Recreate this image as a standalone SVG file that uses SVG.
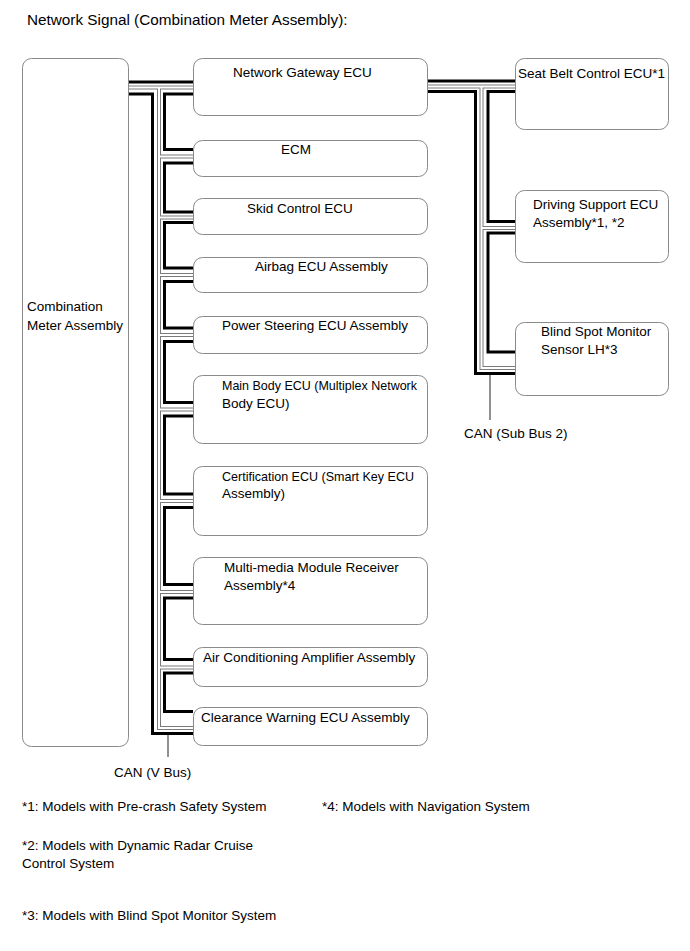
<svg xmlns="http://www.w3.org/2000/svg" width="690" height="951" viewBox="0 0 690 951">
<style>
text{font-family:"Liberation Sans",Arial,sans-serif;font-size:13.5px;fill:#000}
.title{font-size:15.3px}
.box{fill:none;stroke:#8a8a8a;stroke-width:1}
.blk{fill:none;stroke:#000;stroke-width:3;stroke-linejoin:miter}
.hol-o{fill:none;stroke:#7a7a7a;stroke-width:4}
.hol-i{fill:none;stroke:#fff;stroke-width:2}
.ptr{fill:none;stroke:#222;stroke-width:1}
</style>
<defs>
<path id="hollowPath" d="M129,87.5 H193 M159,87.5 V728 H193 M159,156.5 H193 M159,217.5 H193 M159,275 H193 M159,335 H193 M159,409.5 H193 M159,501 H193 M159,592 H193 M159,667.5 H193 M427,86.5 H515 M481.5,86.5 V368 H515 M481.5,228 H515"/>
</defs>
<rect width="690" height="951" fill="#fff"/>
<text class="title" x="27" y="25">Network Signal (Combination Meter Assembly):</text>
<g id="connectors">
<path class="blk" d="M129,82 H193 M129,94 H152.5 V733.5 H193 M427,81 H515 M427,91.5 H475.5 V373.5 H515"/>
<path class="blk" d="M193,94 H164.5 V149.5 H193 M193,163 H164.5 V212 H193 M193,222.5 H164.5 V268 H193 M193,281.5 H164.5 V328 H193 M193,341.5 H164.5 V402.5 H193 M193,416 H164.5 V494 H193 M193,507.5 H164.5 V584.5 H193 M193,598 H164.5 V659.5 H193 M193,673 H164.5 V711.5 H193"/>
<path class="blk" d="M515,91.5 H488 V221.5 H515 M515,233 H488 V352 H515"/>
<use href="#hollowPath" class="hol-o"/>
<use href="#hollowPath" class="hol-i"/>
<path class="ptr" d="M168,735 V757 M490,375 V420"/>
</g>
<g id="combination-meter"><rect class="box" x="22.5" y="58.5" width="106" height="688" rx="9"/><text x="27" y="311">Combination</text><text x="27" y="330">Meter Assembly</text></g>
<g id="gateway"><rect class="box" x="193.5" y="58.5" width="234" height="57" rx="9"/><text x="233" y="77">Network Gateway ECU</text></g>
<g id="ecm"><rect class="box" x="193.5" y="140.5" width="234" height="36" rx="9"/><text x="281" y="154">ECM</text></g>
<g id="skid"><rect class="box" x="193.5" y="198.5" width="234" height="36" rx="9"/><text x="247" y="213">Skid Control ECU</text></g>
<g id="airbag"><rect class="box" x="193.5" y="257.5" width="234" height="35" rx="9"/><text x="255" y="271">Airbag ECU Assembly</text></g>
<g id="power-steering"><rect class="box" x="193.5" y="316.5" width="234" height="37" rx="9"/><text x="222" y="330">Power Steering ECU Assembly</text></g>
<g id="main-body"><rect class="box" x="193.5" y="375.5" width="234" height="68" rx="9"/><text x="222" y="390" textLength="195" lengthAdjust="spacingAndGlyphs">Main Body ECU (Multiplex Network</text><text x="222" y="408">Body ECU)</text></g>
<g id="certification"><rect class="box" x="193.5" y="466.5" width="234" height="69" rx="9"/><text x="222" y="481" textLength="192" lengthAdjust="spacingAndGlyphs">Certification ECU (Smart Key ECU</text><text x="222" y="498">Assembly)</text></g>
<g id="multimedia"><rect class="box" x="193.5" y="557.5" width="234" height="67" rx="9"/><text x="224" y="572">Multi-media Module Receiver</text><text x="224" y="590">Assembly*4</text></g>
<g id="air-conditioning"><rect class="box" x="193.5" y="647.5" width="234" height="39" rx="9"/><text x="203" y="662">Air Conditioning Amplifier Assembly</text></g>
<g id="clearance-warning"><rect class="box" x="193.5" y="707.5" width="234" height="38" rx="9"/><text x="201" y="722">Clearance Warning ECU Assembly</text></g>
<g id="seat-belt"><rect class="box" x="515.5" y="58.5" width="153" height="71" rx="9"/><text x="518" y="78">Seat Belt Control ECU*1</text></g>
<g id="driving-support"><rect class="box" x="515.5" y="190.5" width="153" height="72" rx="9"/><text x="533" y="209">Driving Support ECU</text><text x="533" y="227">Assembly*1, *2</text></g>
<g id="blind-spot"><rect class="box" x="515.5" y="322.5" width="153" height="73" rx="9"/><text x="541" y="336">Blind Spot Monitor</text><text x="541" y="354">Sensor LH*3</text></g>
<text x="114" y="777">CAN (V Bus)</text>
<text x="464" y="438">CAN (Sub Bus 2)</text>
<text x="22" y="811">*1: Models with Pre-crash Safety System</text>
<text x="322" y="811">*4: Models with Navigation System</text>
<text x="22" y="850">*2: Models with Dynamic Radar Cruise</text>
<text x="22" y="868">Control System</text>
<text x="22" y="920">*3: Models with Blind Spot Monitor System</text>
</svg>
